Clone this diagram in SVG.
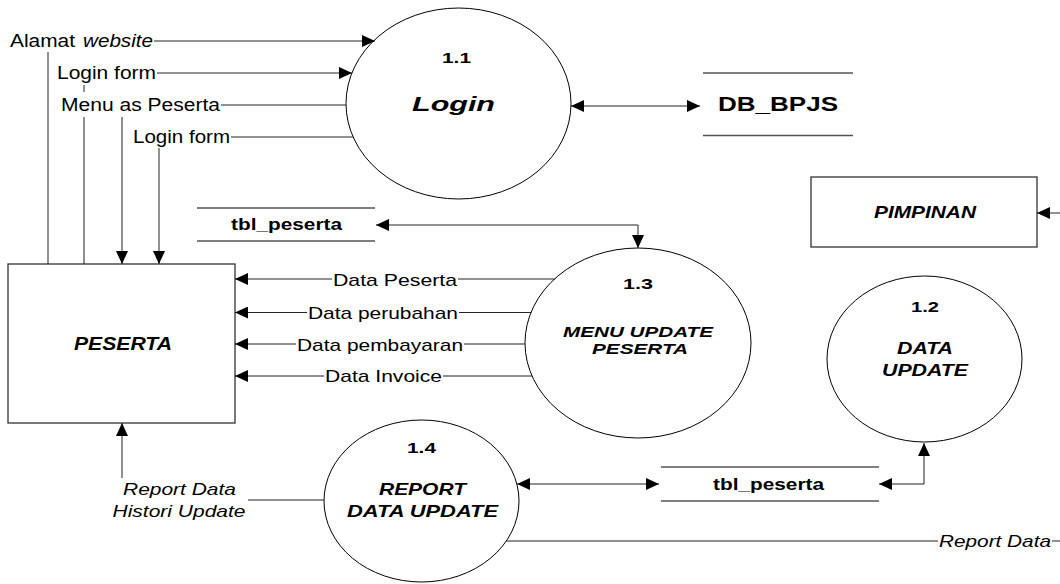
<svg xmlns="http://www.w3.org/2000/svg" width="1060" height="584" viewBox="0 0 1060 584">
  <style>
    text { font-family: "Liberation Sans", Arial, sans-serif; fill: #000; }
    .lbl { font-size: 17.5px; }
    .dat { font-size: 17px; }
    .it { font-size: 17px; font-style: italic; }
    .num { font-size: 14.5px; font-weight: bold; }
    .bi { font-weight: bold; font-style: italic; }
    .b { font-weight: bold; }
    .proc { fill: #fff; stroke: #000; stroke-width: 1; }
    .ent { fill: #fff; stroke: #333; stroke-width: 1.3; }
    .store { stroke: #555; stroke-width: 1.3; fill: none; }
    .flow { stroke: #222; stroke-width: 1; fill: none; }
    .arr { marker-end: url(#head); }
    .arr2 { marker-start: url(#head); marker-end: url(#head); }
  </style>
  <defs>
    <marker id="head" markerUnits="userSpaceOnUse" markerWidth="14" markerHeight="12" refX="13" refY="6" orient="auto-start-reverse">
      <path d="M0,0 L13,6 L0,12 z" fill="#000"/>
    </marker>
  </defs>

  <rect width="1060" height="584" fill="#fff"/>

  <!-- external entities -->
  <g id="peserta">
    <rect class="ent" x="8" y="264" width="227" height="159"/>
    <text class="bi" x="74" y="350" font-size="18" textLength="98" lengthAdjust="spacingAndGlyphs">PESERTA</text>
  </g>
  <g id="pimpinan">
    <rect class="ent" x="811" y="177" width="226" height="70"/>
    <text class="bi" x="874" y="218" font-size="16.5" textLength="102" lengthAdjust="spacingAndGlyphs">PIMPINAN</text>
  </g>

  <!-- processes -->
  <g id="p1-1">
    <ellipse class="proc" cx="458.5" cy="103.5" rx="112.5" ry="95.5"/>
    <text class="num" x="442" y="63" textLength="29" lengthAdjust="spacingAndGlyphs">1.1</text>
    <text class="bi" x="412" y="111" font-size="21" textLength="83" lengthAdjust="spacingAndGlyphs">Login</text>
  </g>
  <g id="p1-3">
    <ellipse class="proc" cx="638" cy="343" rx="113" ry="95"/>
    <text class="num" x="623" y="289" textLength="30" lengthAdjust="spacingAndGlyphs">1.3</text>
    <text class="bi" x="563" y="337" font-size="15.5" textLength="150" lengthAdjust="spacingAndGlyphs">MENU UPDATE</text>
    <text class="bi" x="592" y="354" font-size="15.5" textLength="96" lengthAdjust="spacingAndGlyphs">PESERTA</text>
  </g>
  <g id="p1-2">
    <ellipse class="proc" cx="924.5" cy="359" rx="97.5" ry="83"/>
    <text class="num" x="911" y="311.5" textLength="28" lengthAdjust="spacingAndGlyphs">1.2</text>
    <text class="bi" x="897" y="354" font-size="16" textLength="56" lengthAdjust="spacingAndGlyphs">DATA</text>
    <text class="bi" x="882" y="375.5" font-size="16" textLength="86" lengthAdjust="spacingAndGlyphs">UPDATE</text>
  </g>
  <g id="p1-4">
    <ellipse class="proc" cx="421.5" cy="501" rx="97.5" ry="81"/>
    <text class="num" x="407" y="453" textLength="29" lengthAdjust="spacingAndGlyphs">1.4</text>
    <text class="bi" x="379" y="495" font-size="17" textLength="87" lengthAdjust="spacingAndGlyphs">REPORT</text>
    <text class="bi" x="347" y="516.5" font-size="17" textLength="151" lengthAdjust="spacingAndGlyphs">DATA UPDATE</text>
  </g>

  <!-- data stores -->
  <g id="db-bpjs">
    <line class="store" x1="703" y1="73" x2="853" y2="73"/>
    <line class="store" x1="703" y1="135.5" x2="853" y2="135.5"/>
    <text class="b" x="718" y="111" font-size="20" textLength="120" lengthAdjust="spacingAndGlyphs">DB_BPJS</text>
  </g>
  <g id="tbl-peserta-top">
    <line class="store" x1="197" y1="208" x2="375" y2="208"/>
    <line class="store" x1="197" y1="241" x2="375" y2="241"/>
    <text class="b" x="231" y="230" font-size="16.5" textLength="111" lengthAdjust="spacingAndGlyphs">tbl_peserta</text>
  </g>
  <g id="tbl-peserta-bottom">
    <line class="store" x1="661" y1="467" x2="879" y2="467"/>
    <line class="store" x1="661" y1="501" x2="879" y2="501"/>
    <text class="b" x="713" y="490" font-size="16.5" textLength="111" lengthAdjust="spacingAndGlyphs">tbl_peserta</text>
  </g>

  <!-- data flows -->
  <g id="connectors">
    <!-- PESERTA to Login -->
    <line class="flow" x1="48" y1="264" x2="48" y2="52"/>
    <line class="flow arr" x1="154" y1="41" x2="375" y2="41"/>
    <line class="flow" x1="84" y1="85" x2="84" y2="92"/>
    <line class="flow" x1="84" y1="117" x2="84" y2="264"/>
    <line class="flow arr" x1="157" y1="73" x2="352" y2="73"/>
    <!-- Login to PESERTA -->
    <line class="flow" x1="221" y1="105" x2="346" y2="105"/>
    <line class="flow arr" x1="122" y1="117" x2="122" y2="264"/>
    <line class="flow" x1="231" y1="137" x2="353" y2="137"/>
    <line class="flow arr" x1="159" y1="148" x2="159" y2="264"/>
    <!-- Login and DB_BPJS -->
    <line class="flow arr2" x1="571" y1="106" x2="700" y2="106"/>
    <!-- tbl_peserta and 1.3 -->
    <path class="flow arr2" d="M376,225 H638 V248"/>
    <!-- 1.3 to PESERTA -->
    <line class="flow" x1="555" y1="279" x2="458" y2="279"/>
    <line class="flow arr" x1="332" y1="279" x2="235" y2="279"/>
    <line class="flow" x1="531" y1="312.5" x2="459" y2="312.5"/>
    <line class="flow arr" x1="307" y1="312.5" x2="235" y2="312.5"/>
    <line class="flow" x1="525" y1="344" x2="464" y2="344"/>
    <line class="flow arr" x1="296" y1="344" x2="235" y2="344"/>
    <line class="flow" x1="532" y1="376" x2="443" y2="376"/>
    <line class="flow arr" x1="324" y1="376" x2="235" y2="376"/>
    <!-- 1.4 to PESERTA -->
    <line class="flow" x1="324" y1="500" x2="248" y2="500"/>
    <line class="flow arr" x1="122" y1="478" x2="122" y2="423"/>
    <!-- 1.4 and tbl_peserta -->
    <line class="flow arr2" x1="517" y1="484" x2="659" y2="484"/>
    <!-- tbl_peserta and 1.2 -->
    <path class="flow arr2" d="M879,484 H924 V443"/>
    <!-- 1.4 report out -->
    <line class="flow" x1="506" y1="541" x2="938" y2="541"/>
    <line class="flow" x1="1052" y1="541" x2="1060" y2="541"/>
    <!-- into PIMPINAN -->
    <line class="flow arr" x1="1060" y1="213" x2="1037" y2="213"/>

    <!-- flow labels -->
    <text class="lbl" x="10" y="47" textLength="65" lengthAdjust="spacingAndGlyphs">Alamat</text>
    <text class="lbl" x="83" y="47" font-style="italic" textLength="70" lengthAdjust="spacingAndGlyphs">website</text>
    <text class="lbl" x="57" y="79" textLength="99" lengthAdjust="spacingAndGlyphs">Login form</text>
    <text class="lbl" x="61" y="111" textLength="159" lengthAdjust="spacingAndGlyphs">Menu as Peserta</text>
    <text class="lbl" x="133" y="143" textLength="97" lengthAdjust="spacingAndGlyphs">Login form</text>
    <text class="dat" x="333" y="285.5" textLength="124" lengthAdjust="spacingAndGlyphs">Data Peserta</text>
    <text class="dat" x="308" y="318.5" textLength="150" lengthAdjust="spacingAndGlyphs">Data perubahan</text>
    <text class="dat" x="297" y="350.5" textLength="166" lengthAdjust="spacingAndGlyphs">Data pembayaran</text>
    <text class="dat" x="325" y="382" textLength="117" lengthAdjust="spacingAndGlyphs">Data Invoice</text>
    <text class="it" x="123" y="495" textLength="113" lengthAdjust="spacingAndGlyphs">Report Data</text>
    <text class="it" x="112.5" y="517" textLength="133" lengthAdjust="spacingAndGlyphs">Histori Update</text>
    <text class="it" x="939" y="547" textLength="112" lengthAdjust="spacingAndGlyphs">Report Data</text>
  </g>
</svg>
